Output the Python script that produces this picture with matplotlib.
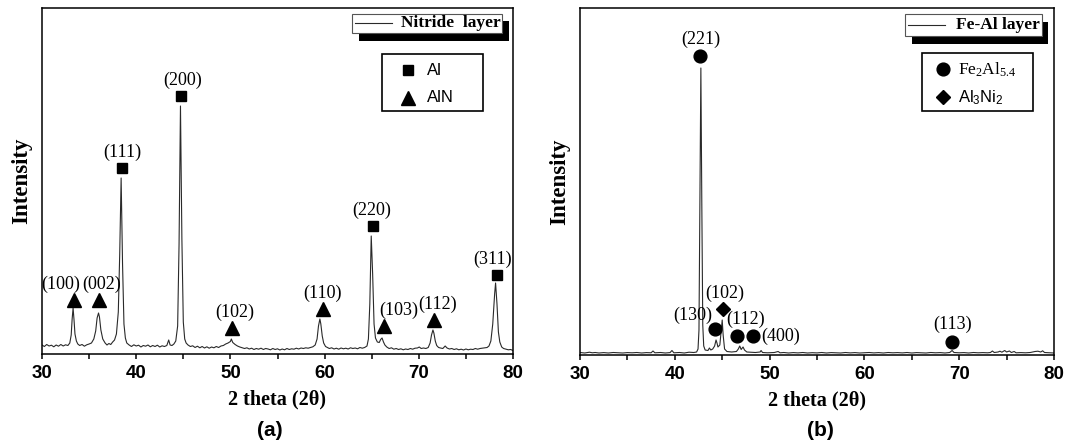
import numpy as np
import matplotlib
matplotlib.use("Agg")
from matplotlib import pyplot as plt
from matplotlib.patches import Rectangle
from matplotlib.ticker import MultipleLocator

SERIF = "Liberation Serif"
SANS = "Liberation Sans"

tth_a = [30.0, 30.25, 30.5, 30.75, 31.0, 31.25, 31.5, 31.75, 32.0, 32.25, 32.5, 32.75,
         32.95, 33.1, 33.2, 33.3, 33.4, 33.5, 33.65, 33.8, 34.0, 34.25, 34.5, 34.75,
         35.0, 35.25, 35.5, 35.7, 35.85, 36.0, 36.1, 36.25, 36.45, 36.7, 36.9, 37.1,
         37.3, 37.5, 37.7, 37.9, 38.1, 38.25, 38.4, 38.55, 38.7, 38.85, 39.0, 39.25,
         39.5, 39.75, 40.0, 40.25, 40.5, 40.75, 41.0, 41.25, 41.5, 41.75, 42.0, 42.25,
         42.5, 42.75, 43.0, 43.25, 43.45, 43.6, 43.8, 44.0, 44.2, 44.4, 44.55, 44.7,
         44.85, 45.0, 45.15, 45.3, 45.5, 45.75, 46.0, 46.25, 46.5, 46.75, 47.0, 47.25,
         47.5, 47.75, 48.0, 48.25, 48.5, 48.75, 49.0, 49.25, 49.5, 49.75, 50.0, 50.1,
         50.25, 50.5, 50.75, 51.0, 51.25, 51.5, 51.75, 52.0, 52.25, 52.5, 52.75, 53.0,
         53.25, 53.5, 53.75, 54.0, 54.25, 54.5, 54.75, 55.0, 55.25, 55.5, 55.75, 56.0,
         56.25, 56.5, 56.75, 57.0, 57.25, 57.5, 57.75, 58.0, 58.25, 58.5, 58.75, 59.0,
         59.2, 59.35, 59.5, 59.6, 59.75, 59.9, 60.1, 60.3, 60.5, 60.75, 61.0, 61.25,
         61.5, 61.75, 62.0, 62.25, 62.5, 62.75, 63.0, 63.25, 63.5, 63.75, 64.0, 64.25,
         64.5, 64.65, 64.8, 64.95, 65.1, 65.25, 65.4, 65.6, 65.8, 65.95, 66.1, 66.25,
         66.4, 66.6, 66.85, 67.1, 67.35, 67.6, 67.85, 68.1, 68.35, 68.6, 68.85, 69.1,
         69.35, 69.6, 69.85, 70.05, 70.25, 70.5, 70.75, 71.0, 71.2, 71.35, 71.5, 71.6,
         71.75, 71.9, 72.1, 72.3, 72.55, 72.8, 73.0, 73.25, 73.5, 73.75, 74.0, 74.25,
         74.5, 74.75, 75.0, 75.25, 75.5, 75.75, 76.0, 76.25, 76.5, 76.75, 77.0, 77.25,
         77.45, 77.65, 77.85, 78.05, 78.15, 78.3, 78.45, 78.6, 78.8, 79.0, 79.25, 79.5,
         79.75, 80.0]
int_a = [90, 75, 95, 80, 88, 72, 90, 78, 95, 80, 92, 85,
         110, 190, 350, 460, 340, 200, 130, 100, 85, 95, 78, 92,
         100, 110, 150, 230, 360, 410, 370, 240, 150, 110, 90, 105,
         95, 120, 140, 200, 420, 1000, 1760, 900, 300, 160, 110, 90,
         75, 92, 80, 88, 70, 85, 78, 90, 72, 85, 75, 88,
         70, 82, 75, 85, 140, 90, 85, 100, 130, 280, 1100, 2480,
         1150, 320, 150, 110, 90, 75, 82, 65, 78, 62, 75, 60,
         72, 58, 70, 62, 75, 65, 80, 85, 100, 110, 125, 150,
         115, 95, 80, 70, 62, 55, 62, 50, 58, 45, 55, 48,
         58, 45, 55, 50, 42, 55, 45, 52, 40, 50, 42, 55,
         45, 52, 48, 58, 50, 60, 55, 62, 58, 65, 72, 90,
         150, 280, 350, 300, 180, 110, 75, 65, 55, 62, 50, 58,
         48, 60, 52, 58, 50, 62, 55, 60, 52, 65, 58, 65,
         80, 150, 500, 1180, 800, 300, 160, 120, 115, 145, 160, 120,
         90, 70, 55, 62, 48, 55, 45, 52, 42, 50, 45, 55,
         48, 58, 60, 70, 55, 60, 55, 65, 110, 190, 240, 210,
         130, 85, 65, 60, 55, 80, 60, 50, 55, 45, 52, 42,
         48, 40, 50, 42, 48, 45, 55, 48, 55, 58, 62, 65,
         80, 130, 300, 600, 710, 500, 220, 120, 70, 55, 48, 42,
         45, 35]

# peak markers for (a): position, marker level, phase, hkl
pk_a_pos = [33.44, 36.05, 38.49, 44.76, 50.17, 59.78, 65.14, 66.30, 71.60, 78.30]
pk_a_lvl = [540, 540, 1860, 2580, 260, 450, 1280, 280, 340, 790]
pk_a_phase = ["AlN", "AlN", "Al", "Al", "AlN", "AlN", "Al", "AlN", "AlN", "Al"]
pk_a_hkl = ["(100)", "(002)", "(111)", "(200)", "(102)", "(110)", "(220)", "(103)", "(112)", "(311)"]
pk_a_dx = [-10, 2, 0, 1, 2, 0, -1, 11, 3, -3]

# --- (b) Fe-Al layer ---
tth_b = [30.0, 30.5, 31.0, 31.3, 31.6, 32.0, 32.5, 33.0, 33.5, 34.0, 34.5, 35.0,
         35.5, 36.0, 36.5, 37.0, 37.5, 37.7, 37.9, 38.5, 39.0, 39.5, 39.7, 39.9,
         40.5, 41.0, 41.5, 42.0, 42.3, 42.45, 42.55, 42.65, 42.75, 42.85, 42.95, 43.05,
         43.2, 43.5, 43.65, 43.8, 44.0, 44.2, 44.35, 44.45, 44.55, 44.75, 44.9, 45.0,
         45.1, 45.25, 45.5, 46.0, 46.5, 46.7, 46.85, 47.0, 47.2, 47.35, 47.6, 48.0,
         48.5, 49.0, 49.1, 49.25, 49.8, 50.5, 50.9, 51.1, 51.5, 52.0, 52.5, 53.0,
         53.5, 54.0, 54.5, 55.0, 55.5, 56.0, 56.5, 57.0, 57.5, 58.0, 58.5, 59.0,
         59.5, 60.0, 60.5, 61.0, 61.5, 62.0, 62.5, 63.0, 63.5, 64.0, 64.5, 65.0,
         65.5, 66.0, 66.5, 67.0, 67.5, 68.0, 68.5, 69.0, 69.25, 69.45, 70.0, 70.5,
         71.0, 71.5, 72.0, 72.5, 73.0, 73.3, 73.5, 73.7, 74.1, 74.3, 74.5, 74.8,
         75.0, 75.3, 75.5, 75.8, 76.0, 76.5, 77.0, 77.5, 78.0, 78.3, 78.6, 78.8,
         79.0, 79.5, 80.0]
int_b = [25, 20, 28, 22, 25, 20, 24, 20, 25, 22, 20, 24,
         22, 25, 20, 24, 22, 40, 22, 25, 20, 24, 45, 22,
         25, 20, 28, 25, 30, 60, 250, 1500, 2870, 1500, 300, 90,
         50, 45, 70, 50, 60, 90, 150, 120, 80, 100, 250, 350,
         200, 60, 35, 30, 35, 60, 90, 55, 80, 50, 30, 28,
         25, 30, 45, 25, 22, 25, 35, 22, 25, 20, 24, 21,
         25, 20, 23, 21, 25, 20, 24, 22, 20, 25, 21, 24,
         20, 22, 25, 21, 24, 20, 25, 22, 24, 21, 25, 20,
         24, 22, 20, 25, 22, 24, 20, 25, 45, 25, 22, 24,
         20, 25, 22, 24, 22, 25, 40, 25, 30, 38, 28, 45,
         30, 40, 25, 35, 22, 24, 22, 25, 35, 38, 30, 42,
         25, 22, 20]

pk_b_pos = [42.70, 44.20, 45.10, 46.60, 48.26, 69.26]
pk_b_lvl = [2990, 260, 460, 190, 190, 130]
pk_b_phase = ["Fe2Al5.4", "Fe2Al5.4", "Al3Ni2", "Fe2Al5.4", "Fe2Al5.4", "Fe2Al5.4"]
pk_b_hkl = ["(221)", "(130)", "(102)", "(112)", "(400)", "(113)"]

markers = {"Al": ("s", 6.6), "AlN": ("^", 9.5), "Fe2Al5.4": ("o", 9.2), "Al3Ni2": ("D", 6.8)}

plt.rcParams["axes.linewidth"] = 1.1
fig = plt.figure(figsize=(10.68, 4.46), dpi=100)
ax_a = fig.add_axes([42 / 1068, 92 / 446, 471 / 1068, 346 / 446])
ax_b = fig.add_axes([580 / 1068, 91 / 446, 474 / 1068, 347 / 446])

LINE = "#2a2a2a"


def style_axes(ax, top):
    ax.set_xlim(30, 80)
    ax.set_ylim(0, top)
    ax.xaxis.set_major_locator(MultipleLocator(10))
    ax.xaxis.set_minor_locator(MultipleLocator(5))
    ax.tick_params(axis="x", which="both", direction="out", length=3.5, width=1.1, pad=4.5)
    ax.tick_params(axis="y", which="both", left=False, labelleft=False)
    for lab in ax.get_xticklabels():
        lab.set_fontfamily(SANS)
        lab.set_fontweight("bold")
        lab.set_fontsize(13.5)
    ax.set_xlabel("2 theta (2θ)", family=SERIF, weight="bold", fontsize=14.5, labelpad=5)
    ax.set_ylabel("Intensity", family=SERIF, weight="bold", fontsize=16.5, labelpad=7)


def layer_box(ax, x0, x1, y0, y1, text):
    # framed key with a solid drop shadow
    ax.add_patch(Rectangle((x0 + 0.014, y0 - 0.022), x1 - x0, y1 - y0, transform=ax.transAxes,
                           facecolor="black", edgecolor="none", zorder=5, clip_on=False))
    ax.add_patch(Rectangle((x0, y0), x1 - x0, y1 - y0, transform=ax.transAxes,
                           facecolor="white", edgecolor="#555555", lw=0.8, zorder=6, clip_on=False))
    ym = (y0 + y1) / 2
    ax.plot([x0 + 0.007, x0 + 0.085], [ym, ym], transform=ax.transAxes, color=LINE, lw=0.8,
            zorder=7, clip_on=False)
    ax.text(x1 - 0.004, ym, text, transform=ax.transAxes, ha="right", va="center",
            family=SERIF, weight="bold", fontsize=12.5, zorder=7)


def phase_box(ax, x0, x1, y0, y1, mark_dx, text_dx, entries):
    ax.add_patch(Rectangle((x0, y0), x1 - x0, y1 - y0, transform=ax.transAxes,
                           facecolor="white", edgecolor="black", lw=1.2, zorder=6))
    n = len(entries)
    for i, (phase, label, fam) in enumerate(entries):
        yy = y1 - (y1 - y0) * (i + 0.53) / n * 0.97 - 0.004
        m, ms = markers[phase]
        ax.plot([x0 + mark_dx], [yy], marker=m, ms=ms, color="black",
                transform=ax.transAxes, zorder=7, ls="none")
        ax.text(x0 + text_dx, yy, label, transform=ax.transAxes, ha="left", va="center",
                family=fam, fontsize=12.5 if fam == SERIF else 12, zorder=7)


# panel (a)
ax_a.plot(tth_a, int_a, color=LINE, lw=0.8)
style_axes(ax_a, 3460)
for x, h, ph, hkl, dx in zip(pk_a_pos, pk_a_lvl, pk_a_phase, pk_a_hkl, pk_a_dx):
    m, ms = markers[ph]
    ax_a.plot(x, h, marker=m, ms=ms, color="black", ls="none")
    ax_a.annotate(hkl, (x, h), xytext=(dx, 11), textcoords="offset points",
                  ha="center", va="center", family=SERIF, fontsize=13)
layer_box(ax_a, 0.658, 0.977, 0.928, 0.983, "Nitride  layer")
phase_box(ax_a, 0.721, 0.936, 0.702, 0.867, 0.056, 0.096,
          [("Al", "Al", SANS), ("AlN", "AlN", SANS)])

# panel (b)
ax_b.plot(tth_b, int_b, color=LINE, lw=0.8)
style_axes(ax_b, 3470)
lbl_b_off = [(0, 12), (-16, 10), (1, 11), (6, 12), (6, 0), (0, 13)]
for x, h, ph, hkl, off in zip(pk_b_pos, pk_b_lvl, pk_b_phase, pk_b_hkl, lbl_b_off):
    m, ms = markers[ph]
    ax_b.plot(x, h, marker=m, ms=ms, color="black", ls="none")
    ax_b.annotate(hkl, (x, h), xytext=off, textcoords="offset points",
                  ha="left" if hkl == "(400)" else "center", va="center",
                  family=SERIF, fontsize=13)
layer_box(ax_b, 0.686, 0.974, 0.919, 0.983, "Fe-Al layer")
phase_box(ax_b, 0.7215, 0.956, 0.703, 0.870, 0.045, 0.076,
          [("Fe2Al5.4", r"Fe$\mathregular{_2}$Al$\mathregular{_{5.4}}$", SERIF),
           ("Al3Ni2", r"Al$\mathregular{_3}$Ni$\mathregular{_2}$", SANS)])

fig.text(270 / 1068, 1 - 430 / 446, "(a)", ha="center", va="center", family=SANS,
         weight="bold", fontsize=15)
fig.text(820 / 1068, 1 - 430 / 446, "(b)", ha="center", va="center", family=SANS,
         weight="bold", fontsize=15)

fig.savefig("out.png", dpi=100)
